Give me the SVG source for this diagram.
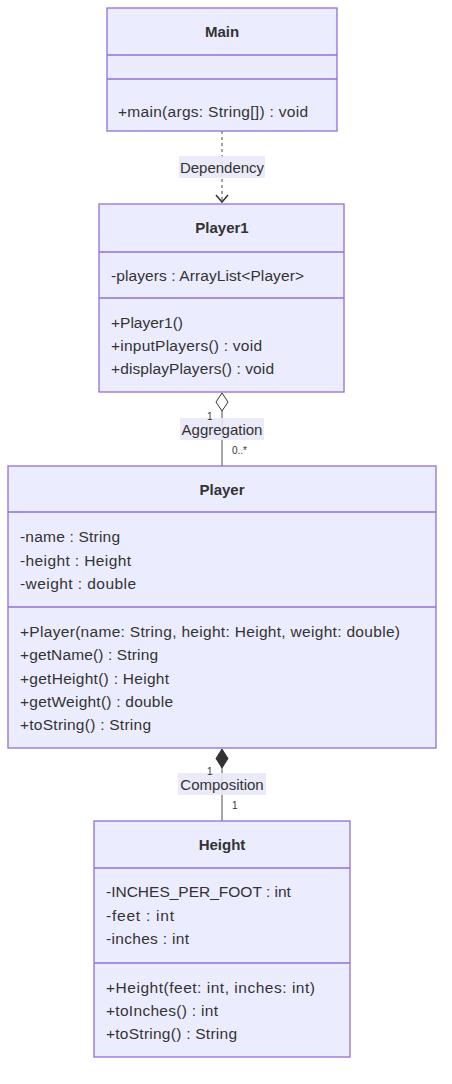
<svg xmlns="http://www.w3.org/2000/svg" width="452" height="1084" viewBox="0 0 452 1084">
<defs>
<style>
.box{fill:#ECECFF;stroke:#9370DB;stroke-width:1.3}
.div{stroke:#9370DB;stroke-width:1.3}
.t{font-family:"Liberation Sans",Arial,sans-serif;font-size:15.5px;fill:#333}
.title{font-weight:bold;text-anchor:middle;font-size:15px}
.lbl{fill:#E8E8F8;opacity:0.9}
.el{font-family:"Liberation Sans",Arial,sans-serif;font-size:15px;fill:#333;text-anchor:middle}
.card{font-family:"Liberation Sans",Arial,sans-serif;font-size:10px;fill:#333}
.rel{stroke:#888;stroke-width:1.5;fill:none}
</style>
</defs>
<rect width="452" height="1084" fill="#fff"/>
<g id="connectors">
<line class="rel" x1="222" y1="131" x2="222" y2="202" stroke-dasharray="3,3"/>
<polyline points="216,195 222,202 228,195" fill="none" stroke="#333" stroke-width="1.5"/>
<line class="rel" x1="222" y1="411" x2="222" y2="466"/>
<path d="M222,393 L228,402 L222,411 L216,402 Z" fill="#fff" stroke="#333" stroke-width="1"/>
<line class="rel" x1="222" y1="768" x2="222" y2="821"/>
<path d="M222,749 L228,758.5 L222,768 L216,758.5 Z" fill="#333" stroke="#333" stroke-width="1"/>
<rect class="lbl" x="179" y="156" width="86" height="22"/>
<text class="el" x="222" y="172.5">Dependency</text>
<rect class="lbl" x="180" y="418" width="84" height="22"/>
<text class="el" x="222" y="434.5">Aggregation</text>
<text class="card" x="207" y="420">1</text>
<text class="card" x="232" y="454">0..*</text>
<rect class="lbl" x="178" y="773" width="88" height="22"/>
<text class="el" x="222" y="789.5">Composition</text>
<text class="card" x="207" y="775">1</text>
<text class="card" x="232" y="809">1</text>
</g>
<g id="Main">
<rect class="box" x="107" y="8" width="230" height="123"/>
<line class="div" x1="107" y1="55" x2="337" y2="55"/>
<line class="div" x1="107" y1="79" x2="337" y2="79"/>
<text class="t title" x="222" y="36.5">Main</text>
<text class="t" x="118" y="116.5" textLength="190">+main(args: String[]) : void</text>
</g>
<g id="Player1">
<rect class="box" x="99" y="204" width="245" height="188"/>
<line class="div" x1="99" y1="252" x2="344" y2="252"/>
<line class="div" x1="99" y1="298" x2="344" y2="298"/>
<text class="t title" x="222" y="232.5">Player1</text>
<text class="t" x="111" y="280.5" textLength="193">-players : ArrayList&lt;Player&gt;</text>
<text class="t" x="111" y="327.5" textLength="72">+Player1()</text>
<text class="t" x="111" y="350.5" textLength="151">+inputPlayers() : void</text>
<text class="t" x="111" y="373.5" textLength="163">+displayPlayers() : void</text>
</g>
<g id="Player">
<rect class="box" x="8" y="466" width="428" height="282"/>
<line class="div" x1="8" y1="512" x2="436" y2="512"/>
<line class="div" x1="8" y1="607" x2="436" y2="607"/>
<text class="t title" x="222" y="494.5">Player</text>
<text class="t" x="20" y="541.5" textLength="100">-name : String</text>
<text class="t" x="20" y="565.5" textLength="111">-height : Height</text>
<text class="t" x="20" y="588.5" textLength="116">-weight : double</text>
<text class="t" x="20" y="636.5" textLength="380">+Player(name: String, height: Height, weight: double)</text>
<text class="t" x="20" y="659.5" textLength="138">+getName() : String</text>
<text class="t" x="20" y="683.5" textLength="149">+getHeight() : Height</text>
<text class="t" x="20" y="706.5" textLength="153">+getWeight() : double</text>
<text class="t" x="20" y="729.5" textLength="131">+toString() : String</text>
</g>
<g id="Height">
<rect class="box" x="94" y="821" width="256" height="236"/>
<line class="div" x1="94" y1="868" x2="350" y2="868"/>
<line class="div" x1="94" y1="963" x2="350" y2="963"/>
<text class="t title" x="222" y="849.5">Height</text>
<text class="t" x="106" y="896.5">-INCHES_PER_FOOT : int</text>
<text class="t" x="106" y="920.5" textLength="68">-feet : int</text>
<text class="t" x="106" y="943.5" textLength="83">-inches : int</text>
<text class="t" x="106" y="992.5" textLength="209">+Height(feet: int, inches: int)</text>
<text class="t" x="106" y="1015.5" textLength="112">+toInches() : int</text>
<text class="t" x="106" y="1038.5" textLength="131">+toString() : String</text>
</g>
</svg>
